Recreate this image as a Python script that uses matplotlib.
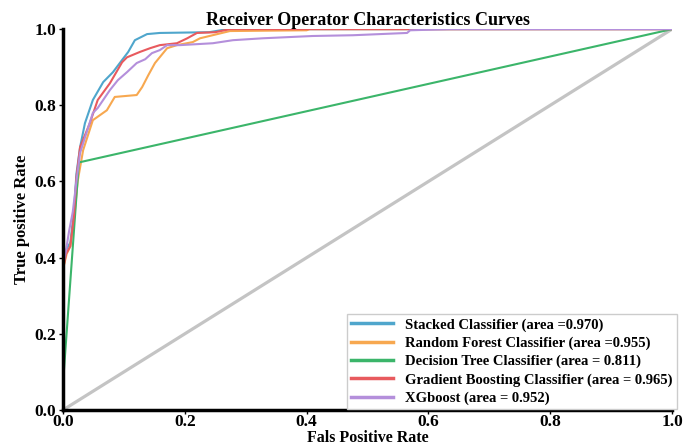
import matplotlib
matplotlib.use("Agg")
import matplotlib.pyplot as plt

# ROC points
stacked_fpr = [0.0, 0.0, 0.005, 0.012, 0.018, 0.022, 0.028, 0.036, 0.049, 0.066, 0.082, 0.097, 0.107, 0.118, 0.138, 0.159, 0.24, 0.27, 1.0]
stacked_tpr = [0.0, 0.38, 0.42, 0.44, 0.52, 0.62, 0.69, 0.753, 0.814, 0.861, 0.887, 0.919, 0.94, 0.971, 0.987, 0.99, 0.992, 1.0, 1.0]

rf_fpr = [0.0, 0.0, 0.006, 0.012, 0.018, 0.024, 0.033, 0.049, 0.072, 0.085, 0.121, 0.13, 0.14, 0.151, 0.171, 0.187, 0.213, 0.225, 0.274, 0.40, 0.405, 1.0]
rf_tpr = [0.0, 0.37, 0.41, 0.43, 0.50, 0.60, 0.682, 0.761, 0.787, 0.822, 0.827, 0.848, 0.879, 0.911, 0.95, 0.958, 0.966, 0.976, 0.995, 0.997, 1.0, 1.0]

dt_fpr = [0.0, 0.0, 0.026, 1.0]
dt_tpr = [0.0, 0.07, 0.65, 1.0]

gb_fpr = [0.0, 0.0, 0.005, 0.012, 0.018, 0.022, 0.028, 0.044, 0.057, 0.077, 0.097, 0.105, 0.126, 0.143, 0.159, 0.187, 0.204, 0.22, 0.25, 0.274, 1.0]
gb_tpr = [0.0, 0.37, 0.41, 0.43, 0.51, 0.61, 0.69, 0.753, 0.814, 0.858, 0.913, 0.926, 0.94, 0.95, 0.958, 0.963, 0.976, 0.99, 0.992, 1.0, 1.0]

xgb_fpr = [0.0, 0.0, 0.005, 0.010, 0.016, 0.022, 0.028, 0.049, 0.057, 0.077, 0.09, 0.105, 0.121, 0.135, 0.146, 0.159, 0.171, 0.192, 0.246, 0.279, 0.328, 0.41, 0.476, 0.565, 0.57, 0.635, 1.0]
xgb_tpr = [0.0, 0.38, 0.42, 0.47, 0.52, 0.60, 0.675, 0.78, 0.793, 0.84, 0.866, 0.887, 0.911, 0.921, 0.937, 0.945, 0.958, 0.958, 0.963, 0.971, 0.976, 0.982, 0.984, 0.99, 0.997, 1.0, 1.0]

labels = [
    "Stacked Classifier (area =0.970)",
    "Random Forest Classifier (area =0.955)",
    "Decision Tree Classifier (area = 0.811)",
    "Gradient Boosting Classifier (area = 0.965)",
    "XGboost (area = 0.952)",
]
colors = ["#4fa6cc", "#f7a850", "#3bb56a", "#e85a5e", "#b48fdb"]

plt.rcParams["font.family"] = "Liberation Serif"
plt.rcParams["font.weight"] = "bold"

fig = plt.figure(figsize=(6.94, 4.47), dpi=100)
ax = fig.add_axes([0.0908, 0.0828, 0.8775, 0.852])

curves = [(stacked_fpr, stacked_tpr), (rf_fpr, rf_tpr), (dt_fpr, dt_tpr),
          (gb_fpr, gb_tpr), (xgb_fpr, xgb_tpr)]
ax.plot([0, 1], [0, 1], color="#c4c4c4", linewidth=2.3, zorder=1)
for (fx, ty), lab, c in zip(curves, labels, colors):
    ax.plot(fx, ty, color=c, linewidth=1.5, label=lab, zorder=2)

ax.set_xlim(0, 1)
ax.set_ylim(0, 1)
ax.set_xticks([0, 0.2, 0.4, 0.6, 0.8, 1.0])
ax.set_yticks([0, 0.2, 0.4, 0.6, 0.8, 1.0])
ax.tick_params(labelsize=12.5, length=3, width=1, pad=2)
ax.tick_params(axis="x", pad=0)
for lbl in ax.get_xticklabels() + ax.get_yticklabels():
    lbl.set_fontweight("bold")

ax.spines["top"].set_visible(False)
ax.spines["right"].set_visible(False)
ax.spines["left"].set_linewidth(2.5)
ax.spines["bottom"].set_linewidth(2.5)

ax.set_title("Receiver Operator Characteristics Curves", fontsize=13, fontweight="bold", pad=3)
ax.set_xlabel("Fals Positive Rate", fontsize=11.5, fontweight="bold", labelpad=0)
ax.set_ylabel("True positive Rate", fontsize=12, fontweight="bold", labelpad=3)

leg = ax.legend(loc="lower right", bbox_to_anchor=(1.008, 0.002), borderaxespad=0,
                prop={"weight": "bold", "size": 10.5}, handlelength=2.9,
                handletextpad=0.8, labelspacing=0.33, borderpad=0.3,
                fancybox=False, framealpha=1, edgecolor="#cccccc")
for line in leg.get_lines():
    line.set_linewidth(2.5)

fig.savefig("out.png", dpi=100)
